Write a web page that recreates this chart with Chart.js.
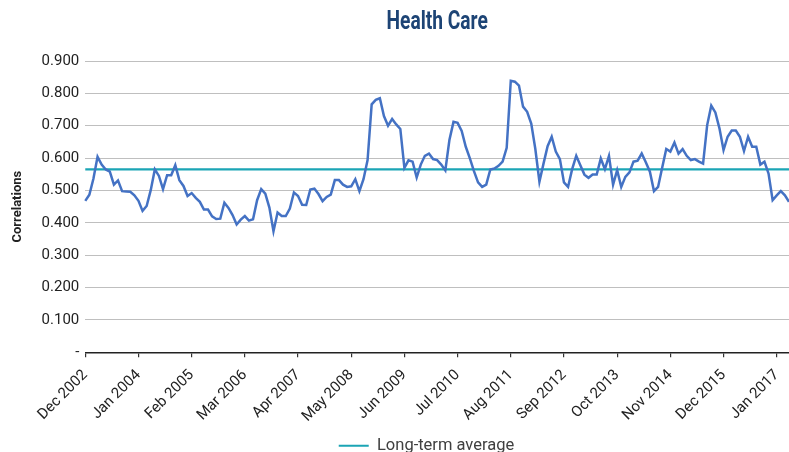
<!DOCTYPE html>
<html>
<head>
<meta charset="utf-8">
<script src="https://cdn.jsdelivr.net/npm/chart.js@4.4.1/dist/chart.umd.min.js"></script>
<style>
    html, body { margin: 0; padding: 0; background: #ffffff; }
    #wrap { width: 789px; height: 452px; }
</style>
</head>
<body>
<div id="wrap"><canvas id="corrChart" width="789" height="452"></canvas></div>
<script>
// Monthly correlations, Dec 2002 - Apr 2017
const startYear = 2002;
const startMonth = 11; // December
const monthNames = ['Jan', 'Feb', 'Mar', 'Apr', 'May', 'Jun', 'Jul', 'Aug', 'Sep', 'Oct', 'Nov', 'Dec'];

const correlations = [
    0.468, 0.487, 0.537, 0.604, 0.580, 0.565, 0.558, 0.518, 0.531, 0.498,
    0.497, 0.496, 0.485, 0.468, 0.437, 0.452, 0.501, 0.565, 0.545, 0.504,
    0.547, 0.547, 0.578, 0.532, 0.514, 0.483, 0.492, 0.477, 0.465, 0.441,
    0.441, 0.420, 0.412, 0.413, 0.462, 0.446, 0.424, 0.395, 0.410, 0.421,
    0.407, 0.411, 0.470, 0.504, 0.490, 0.447, 0.374, 0.432, 0.421, 0.421,
    0.444, 0.494, 0.483, 0.456, 0.455, 0.503, 0.506, 0.489, 0.467, 0.480,
    0.487, 0.532, 0.532, 0.518, 0.511, 0.513, 0.535, 0.498, 0.535, 0.594,
    0.766, 0.780, 0.785, 0.730, 0.700, 0.721, 0.704, 0.690, 0.570, 0.593,
    0.589, 0.540, 0.580, 0.607, 0.614, 0.597, 0.594, 0.580, 0.562, 0.656,
    0.712, 0.709, 0.684, 0.635, 0.599, 0.560, 0.525, 0.511, 0.518, 0.565,
    0.568, 0.576, 0.589, 0.632, 0.839, 0.836, 0.824, 0.759, 0.743, 0.707,
    0.628, 0.527, 0.583, 0.637, 0.666, 0.620, 0.597, 0.525, 0.511, 0.566,
    0.607, 0.578, 0.549, 0.539, 0.549, 0.549, 0.599, 0.566, 0.607, 0.518,
    0.563, 0.511, 0.542, 0.556, 0.589, 0.592, 0.614, 0.587, 0.558, 0.498,
    0.511, 0.570, 0.628, 0.620, 0.648, 0.614, 0.628, 0.607, 0.594, 0.597,
    0.589, 0.583, 0.702, 0.762, 0.741, 0.692, 0.625, 0.666, 0.685, 0.685,
    0.666, 0.622, 0.666, 0.635, 0.635, 0.580, 0.589, 0.552, 0.470, 0.485,
    0.498, 0.485, 0.465
];

const longTermAverage = 0.565;

const tickLabels = [
    'Dec 2002', 'Jan 2004', 'Feb 2005', 'Mar 2006', 'Apr 2007', 'May 2008', 'Jun 2009',
    'Jul 2010', 'Aug 2011', 'Sep 2012', 'Oct 2013', 'Nov 2014', 'Dec 2015', 'Jan 2017'
];

// Month labels for each point
const months = correlations.map(function(v, i) {
    const m = (startMonth + i) % 12;
    const y = startYear + Math.floor((startMonth + i) / 12);
    return monthNames[m] + ' ' + y;
});

const fontFamily = "Roboto, 'Noto Sans', sans-serif";
const textColor = '#222222';
const chartTitle = 'Health Care';

// Condensed title drawn above the plot, legend nudged to the right
const titlePlugin = {
    id: 'condensedTitle',
    afterLayout(chart) {
        if (chart.legend) {
            chart.legend.left += 27;
            chart.legend.right += 27;
        }
    },
    afterDraw(chart) {
        const ctx = chart.ctx;
        const cx = (chart.chartArea.left + chart.chartArea.right) / 2;
        ctx.save();
        ctx.font = "bold 24px Roboto, sans-serif";
        ctx.fillStyle = '#1d4475';
        ctx.textAlign = 'center';
        ctx.textBaseline = 'middle';
        ctx.translate(cx, 23);
        ctx.scale(0.8, 1.04);
        ctx.fillText(chartTitle, 0, 0);
        ctx.restore();
    }
};

new Chart(document.getElementById('corrChart'), {
    type: 'line',
    data: {
        labels: months,
        datasets: [{
            label: 'Correlations',
            data: correlations,
            borderColor: '#4472c4',
            borderWidth: 2.5,
            pointRadius: 0,
            tension: 0,
            fill: false,
            order: 1
        }, {
            label: 'Long-term average',
            data: months.map(() => longTermAverage),
            borderColor: '#1ba5b5',
            backgroundColor: '#1ba5b5',
            borderWidth: 2.2,
            pointRadius: 0,
            fill: false,
            order: 2
        }]
    },
    plugins: [titlePlugin],
    options: {
        responsive: false,
        animation: false,
        layout: {
            padding: { left: 10, right: 0, top: 61, bottom: -12 }
        },
        plugins: {
            title: { display: false },
            legend: {
                position: 'bottom',
                labels: {
                    boxWidth: 30,
                    boxHeight: 2,
                    color: '#404040',
                    font: { family: fontFamily, size: 16.5 },
                    padding: 3,
                    generateLabels: function(chart) {
                        const items = Chart.defaults.plugins.legend.labels.generateLabels(chart);
                        return items.filter(it => it.text === 'Long-term average').map(it => {
                            it.lineWidth = 0;
                            it.fillStyle = '#1ba5b5';
                            return it;
                        });
                    }
                }
            },
            tooltip: { enabled: false }
        },
        scales: {
            x: {
                offset: false,
                afterBuildTicks: function(scale) {
                    scale.ticks = scale.ticks.filter(t => tickLabels.includes(months[t.value]));
                },
                afterFit: function(scale) {
                    scale.paddingRight = 0;
                },
                ticks: {
                    autoSkip: false,
                    maxRotation: 45,
                    minRotation: 45,
                    color: textColor,
                    font: { family: fontFamily, size: 15 },
                    padding: 9,
                    callback: function(value) {
                        return months[value];
                    }
                },
                grid: {
                    drawOnChartArea: false,
                    drawTicks: true,
                    tickLength: 5,
                    color: '#333333',
                    lineWidth: 1.2
                },
                border: { display: true, color: '#222222', width: 1.5 }
            },
            y: {
                min: 0,
                max: 0.9,
                ticks: {
                    stepSize: 0.1,
                    color: textColor,
                    font: { family: fontFamily, size: 15 },
                    padding: 6,
                    callback: function(value) {
                        return value === 0 ? '-' : value.toFixed(3);
                    }
                },
                grid: {
                    color: '#bfbfbf',
                    lineWidth: 1,
                    drawTicks: false
                },
                border: { display: false },
                title: {
                    display: true,
                    text: 'Correlations',
                    color: textColor,
                    font: { family: fontFamily, size: 13, weight: 'bold' },
                    padding: { top: 0, bottom: 10 }
                }
            }
        }
    }
});
</script>
</body>
</html>
